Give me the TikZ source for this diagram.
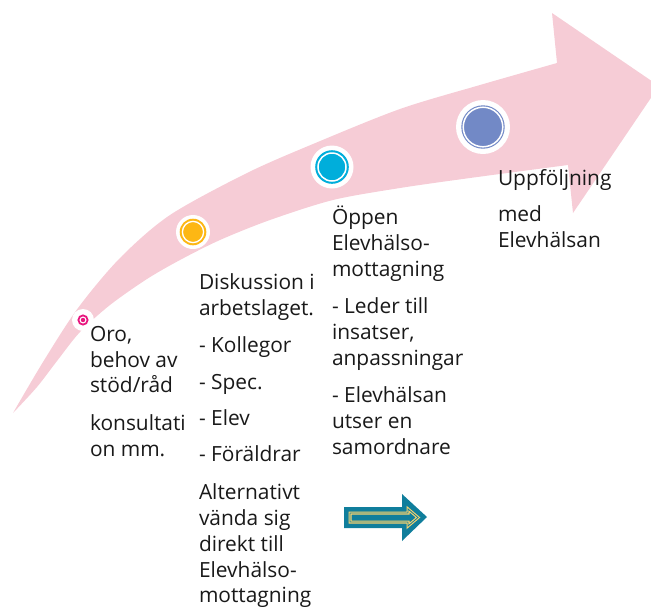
\documentclass[tikz,border=0pt]{standalone}
\usepackage{fontspec}
\setmainfont{Open Sans}
\definecolor{pinkarrow}{RGB}{246,204,214}
\definecolor{mag}{RGB}{232,23,127}
\definecolor{orng}{RGB}{253,183,20}
\definecolor{cyanb}{RGB}{0,174,219}
\definecolor{lav}{RGB}{114,137,198}
\definecolor{tealb}{RGB}{16,126,156}
\definecolor{ylw}{RGB}{249,211,110}
\definecolor{txtc}{RGB}{25,25,25}
\begin{document}
\begin{tikzpicture}[x=1pt,y=-1pt,
  txt/.style={anchor=base west, inner sep=0pt, outer sep=0pt, font=\fontsize{20.9}{26}\selectfont, text=txtc}]
\useasboundingbox (0,0) rectangle (651,606);
\clip (0,0) rectangle (651,606);
% big curved arrow
\fill[pinkarrow] plot[smooth] coordinates {(13,413) (43,362) (78,308) (120,258) (170,215) (247,173) (313,144) (400,109) (480,85) (557,63)}
  -- (552,13) -- (659,86) -- (573,213) -- (568,165)
  -- plot[smooth] coordinates {(568,165) (470,178) (400,188) (333,200) (270,220) (220,240) (180,260) (147,279) (110,305) (80,332) (57,361) (37,387) (13,413)} -- cycle;
% milestone markers
\coordinate (m1) at (83,320);
\coordinate (m2) at (193,232);
\coordinate (m3) at (332,167);
\coordinate (m4) at (483,127);
\fill[white] (m1) circle (11pt);
\draw[mag, line width=1.8pt] (m1) circle (4.6pt);
\fill[mag] (m1) circle (2.2pt);
\fill[white] (m2) circle (17pt);
\fill[orng] (m2) circle (13.3pt);
\draw[white, line width=1.3pt] (m2) circle (10.6pt);
\fill[white] (m3) circle (21.5pt);
\fill[cyanb] (m3) circle (16.8pt);
\draw[white, line width=1.5pt] (m3) circle (14pt);
\fill[white] (m4) circle (27pt);
\fill[lav] (m4) circle (21.7pt);
\draw[white, line width=1.5pt] (m4) circle (19.8pt);
% column 1
\node[txt] (a1) at (90,341) {Oro,};
\node[txt] (a2) at (90,367) {behov av};
\node[txt] (a3) at (90,392) {stöd/råd};
\node[txt] (a4) at (90,430) {konsultati};
\node[txt] (a5) at (90,456) {on mm.};
% column 2
\node[txt] (b1) at (199,289) {Diskussion i};
\node[txt] (b2) at (199,315) {arbetslaget.};
\node[txt] (b3) at (199,352) {- Kollegor};
\node[txt] (b4) at (199,389) {- Spec.};
\node[txt] (b5) at (199,425) {- Elev};
\node[txt] (b6) at (199,461) {- Föräldrar};
\node[txt] (b7) at (199,499) {Alternativt};
\node[txt] (b8) at (199,525) {vända sig};
\node[txt] (b9) at (199,551) {direkt till};
\node[txt] (b10) at (199,577) {Elevhälso-};
\node[txt] (b11) at (199,602) {mottagning};
% column 3
\node[txt] (c1) at (332,224) {Öppen};
\node[txt] (c2) at (332,250) {Elevhälso-};
\node[txt] (c3) at (332,276) {mottagning};
\node[txt] (c4) at (332,313) {- Leder till};
\node[txt] (c5) at (332,339) {insatser,};
\node[txt] (c6) at (332,365) {anpassningar};
\node[txt] (c7) at (332,402) {- Elevhälsan};
\node[txt] (c8) at (332,428) {utser en};
\node[txt] (c9) at (332,454) {samordnare};
% column 4
\node[txt] (d1) at (498,185) {Uppföljning};
\node[txt] (d2) at (498,221) {med};
\node[txt] (d3) at (498,247) {Elevhälsan};
% small block arrow
\fill[tealb] (344,507) -- (402,507) -- (402,494) -- (427,517) -- (402,541) -- (402,528) -- (344,528) -- cycle;
\draw[ylw, line width=1.1pt, double=tealb, double distance=0.8pt, line join=miter]
  (350,513) -- (408,513) -- (408,509) -- (418,517.5) -- (408,526) -- (408,522) -- (350,522) -- cycle;
\end{tikzpicture}
\end{document}
